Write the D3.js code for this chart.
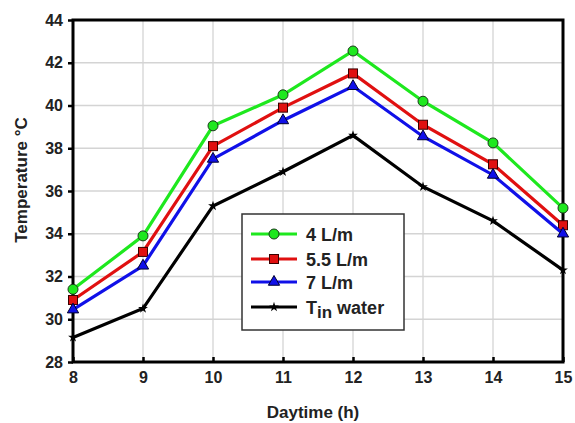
<!DOCTYPE html>
<html>
<head>
<meta charset="utf-8">
<script src="https://cdn.jsdelivr.net/npm/d3@7"></script>
<style>
  body { margin: 0; background: #fff; }
  text { font-family: "Liberation Sans", Arial, sans-serif; font-weight: bold; fill: #222; }
</style>
</head>
<body>
<div id="chart"></div>
<script>
// data
var hours = [8, 9, 10, 11, 12, 13, 14, 15];
var flow4 = [31.4, 33.9, 39.05, 40.5, 42.55, 40.2, 38.25, 35.2];
var flow55 = [30.9, 33.15, 38.1, 39.9, 41.5, 39.1, 37.25, 34.4];
var flow7 = [30.45, 32.5, 37.5, 39.3, 40.9, 38.55, 36.75, 34.0];
var tinWater = [29.15, 30.5, 35.3, 36.9, 38.6, 36.2, 34.6, 32.3];
var yTicks = [28, 30, 32, 34, 36, 38, 40, 42, 44];

var series = [
  { name: "4 L/m", values: flow4, color: "#1ee81e", marker: "circle" },
  { name: "5.5 L/m", values: flow55, color: "#e01010", marker: "square" },
  { name: "7 L/m", values: flow7, color: "#1010e8", marker: "triangle" },
  { name: "T", sub: "in", tail: " water", values: tinWater, color: "#000", marker: "star" }
];

var W = 575, H = 423;
var margin = { top: 20, right: 12, bottom: 61, left: 73 };
var width = W - margin.left - margin.right;
var height = H - margin.top - margin.bottom;

var svg = d3.select("#chart").append("svg")
  .attr("width", W).attr("height", H);
var g = svg.append("g")
  .attr("transform", "translate(" + margin.left + "," + margin.top + ")");

var x = d3.scaleLinear().domain([8, 15]).range([0, width]);
var y = d3.scaleLinear().domain([28, 44]).range([height, 0]);

// grid
g.append("g").selectAll("line").data(hours).join("line")
  .attr("x1", d => x(d)).attr("x2", d => x(d))
  .attr("y1", 0).attr("y2", height)
  .style("stroke", "#d4d4d4").style("stroke-width", 1.3);
g.append("g").selectAll("line").data(yTicks).join("line")
  .attr("x1", 0).attr("x2", width)
  .attr("y1", d => y(d)).attr("y2", d => y(d))
  .style("stroke", "#d4d4d4").style("stroke-width", 1.3);

// axes
var yAxis = g.append("g")
  .call(d3.axisLeft(y).tickValues(yTicks).tickFormat(d3.format("d")).tickSize(5).tickPadding(5));
var xAxis = g.append("g")
  .attr("transform", "translate(0," + height + ")")
  .call(d3.axisBottom(x).tickValues(hours).tickFormat(d3.format("d")).tickSize(-5).tickPadding(10));
[yAxis, xAxis].forEach(a => {
  a.select(".domain").remove();
  a.selectAll("line").style("stroke", "#000").style("stroke-width", 2.5);
  a.selectAll("text").style("font-size", "16px")
    .style("font-family", "'Liberation Sans', Arial, sans-serif")
    .style("font-weight", "bold").style("fill", "#222");
});

// frame
g.append("rect")
  .attr("width", width).attr("height", height)
  .style("fill", "none").style("stroke", "#000").style("stroke-width", 3);

var line = d3.line()
  .x((d, i) => x(hours[i]))
  .y(d => y(d));

function drawMarker(sel, s) {
  if (s.marker == "circle") {
    sel.append("circle").attr("r", 5)
      .style("fill", s.color).style("stroke", "#1a3a1a").style("stroke-width", 1);
  } else if (s.marker == "square") {
    sel.append("rect").attr("x", -4.5).attr("y", -4.5).attr("width", 9).attr("height", 9)
      .style("fill", s.color).style("stroke", "#3a0000").style("stroke-width", 1);
  } else if (s.marker == "triangle") {
    sel.append("path").attr("d", d3.symbol(d3.symbolTriangle, 55)())
      .style("fill", s.color).style("stroke", "#000030").style("stroke-width", 1);
  } else {
    sel.append("path").attr("d", d3.symbol(d3.symbolStar, 30)())
      .style("fill", s.color);
  }
}

series.forEach(s => {
  g.append("path")
    .datum(s.values)
    .attr("d", line)
    .style("fill", "none")
    .style("stroke", s.color)
    .style("stroke-width", 3.2);
  g.append("g").selectAll("g").data(s.values).join("g")
    .attr("transform", (d, i) => "translate(" + x(hours[i]) + "," + y(d) + ")")
    .each(function () { drawMarker(d3.select(this), s); });
});

// legend
var lg = svg.append("g").attr("transform", "translate(242,214)");
lg.append("rect").attr("width", 162).attr("height", 116)
  .style("fill", "#fff").style("stroke", "#333").style("stroke-width", 1.5);
var rowY = [20, 45, 68, 93];
series.forEach((s, i) => {
  var r = lg.append("g").attr("transform", "translate(0," + rowY[i] + ")");
  r.append("line").attr("x1", 9).attr("x2", 55)
    .style("stroke", s.color).style("stroke-width", 3.2);
  var m = r.append("g").attr("transform", "translate(32,0)");
  drawMarker(m, s);
  var t = r.append("text").attr("x", 64).attr("y", 6.5).style("font-size", "18px");
  if (s.sub) {
    t.append("tspan").text(s.name);
    t.append("tspan").attr("dy", 4).style("font-size", "17px").text(s.sub);
    t.append("tspan").attr("dy", -4).text(s.tail);
  } else {
    t.text(s.name);
  }
});

// titles
svg.append("text")
  .attr("x", 313).attr("y", 418)
  .attr("text-anchor", "middle").style("font-size", "17px")
  .text("Daytime (h)");
svg.append("text")
  .attr("transform", "translate(27,180) rotate(-90)")
  .attr("text-anchor", "middle").style("font-size", "17px")
  .text("Temperature °C");
</script>
</body>
</html>
